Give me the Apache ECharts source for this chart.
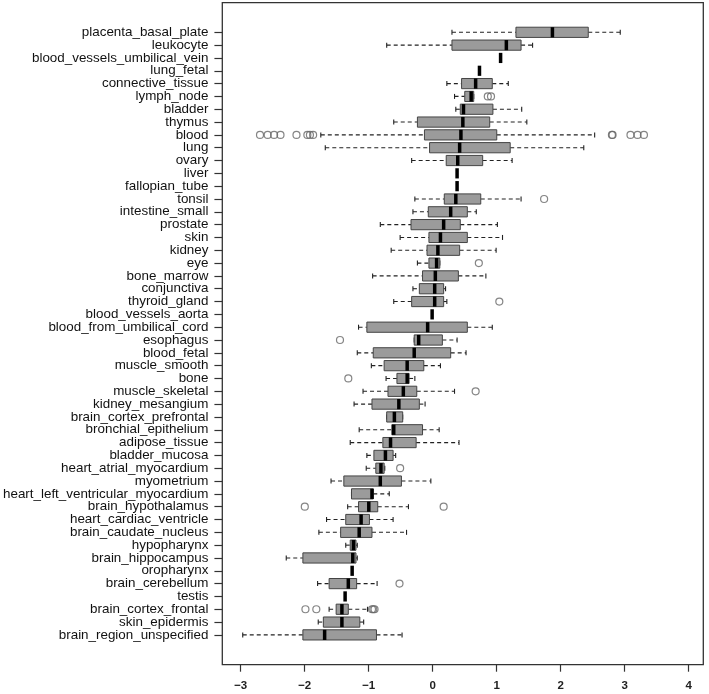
<!DOCTYPE html>
<html>
<head>
<meta charset="utf-8">
<script src="https://cdn.jsdelivr.net/npm/echarts@6/dist/echarts.min.js"></script>
<style>
html,body{margin:0;padding:0;background:#fff;}
#chart{width:709px;height:694px;}
</style>
</head>
<body>
<div id="chart"></div>
<script>
const categories = [
  "placenta_basal_plate","leukocyte","blood_vessels_umbilical_vein","lung_fetal","connective_tissue",
  "lymph_node","bladder","thymus","blood","lung","ovary","liver","fallopian_tube","tonsil",
  "intestine_small","prostate","skin","kidney","eye","bone_marrow","conjunctiva","thyroid_gland",
  "blood_vessels_aorta","blood_from_umbilical_cord","esophagus","blood_fetal","muscle_smooth","bone",
  "muscle_skeletal","kidney_mesangium","brain_cortex_prefrontal","bronchial_epithelium","adipose_tissue",
  "bladder_mucosa","heart_atrial_myocardium","myometrium","heart_left_ventricular_myocardium",
  "brain_hypothalamus","heart_cardiac_ventricle","brain_caudate_nucleus","hypopharynx",
  "brain_hippocampus","oropharynx","brain_cerebellum","testis","brain_cortex_frontal",
  "skin_epidermis","brain_region_unspecified"
];
const whiskerLow = [0.30,-0.72,1.06,0.73,0.22,0.34,0.36,-0.61,-1.75,-1.68,-0.33,0.38,0.38,-0.28,
  -0.31,-0.82,-0.51,-0.65,-0.24,-0.94,-0.31,-0.61,-0.01,-1.16,-0.29,-1.18,-0.96,-0.73,
  -1.09,-1.23,-0.72,-1.15,-1.29,-1.03,-1.04,-1.59,-1.27,-1.33,-1.66,-1.78,-1.36,-2.29,-1.26,
  -1.80,-1.37,-1.62,-1.79,-2.97];
const q1 = [1.30,0.30,1.06,0.73,0.45,0.50,0.43,-0.24,-0.13,-0.05,0.21,0.38,0.38,0.18,
  -0.07,-0.34,-0.06,-0.09,-0.06,-0.16,-0.21,-0.33,-0.01,-1.03,-0.29,-0.93,-0.76,-0.56,
  -0.70,-0.95,-0.72,-0.64,-0.78,-0.92,-0.89,-1.39,-1.27,-1.16,-1.36,-1.44,-1.29,-2.03,-1.26,
  -1.62,-1.37,-1.51,-1.71,-2.03];
const median = [1.87,1.15,1.06,0.73,0.67,0.60,0.48,0.47,0.44,0.42,0.39,0.38,0.38,0.36,
  0.28,0.17,0.12,0.08,0.06,0.04,0.03,0.03,-0.01,-0.08,-0.22,-0.29,-0.40,-0.40,
  -0.46,-0.53,-0.60,-0.61,-0.66,-0.74,-0.81,-0.82,-0.95,-1.00,-1.12,-1.15,-1.24,-1.25,-1.26,
  -1.32,-1.37,-1.42,-1.42,-1.69];
const q3 = [2.43,1.38,1.06,0.73,0.93,0.64,0.94,0.89,1.00,1.21,0.78,0.38,0.38,0.75,
  0.54,0.43,0.54,0.42,0.11,0.40,0.17,0.17,-0.01,0.54,0.15,0.28,-0.14,-0.37,
  -0.25,-0.21,-0.47,-0.16,-0.26,-0.62,-0.76,-0.49,-0.93,-0.86,-0.99,-0.95,-1.20,-1.20,-1.26,
  -1.19,-1.37,-1.32,-1.14,-0.88];
const whiskerHigh = [2.93,1.56,1.06,0.73,1.18,0.64,1.39,1.47,2.53,2.36,1.24,0.38,0.38,1.38,
  0.68,1.01,1.09,0.99,0.11,0.83,0.20,0.22,-0.01,0.93,0.38,0.52,0.12,-0.28,
  0.34,-0.12,-0.47,0.10,0.41,-0.58,-0.75,-0.03,-0.68,-0.38,-0.62,-0.41,-1.18,-1.18,-1.26,
  -0.87,-1.37,-1.02,-1.08,-0.48];
const outlierCategory = [
  "lymph_node","lymph_node",
  "blood","blood","blood","blood","blood","blood","blood","blood","blood","blood","blood","blood","blood",
  "tonsil","eye","thyroid_gland","esophagus","bone","muscle_skeletal","heart_atrial_myocardium",
  "brain_hypothalamus","brain_hypothalamus","brain_cerebellum",
  "brain_cortex_frontal","brain_cortex_frontal","brain_cortex_frontal","brain_cortex_frontal","brain_cortex_frontal"
];
const outlierValue = [
  0.86,0.91,
  -2.70,-2.58,-2.48,-2.38,-2.13,-1.96,-1.92,-1.87,2.80,2.81,3.09,3.20,3.30,
  1.74,0.72,1.04,-1.45,-1.32,0.67,-0.51,
  -2.00,0.17,-0.52,
  -1.99,-1.82,-0.95,-0.93,-0.91
];
const xTicks = [-3,-2,-1,0,1,2,3,4];

const XMIN = -3.2875, XMAX = 4.228;
const FONT = "'Liberation Sans', Arial, sans-serif";

const boxData = categories.map((c, i) => [i, whiskerLow[i], q1[i], median[i], q3[i], whiskerHigh[i]]);
const outData = outlierCategory.map((c, i) => [outlierValue[i], categories.indexOf(c)]);

const chart = echarts.init(document.getElementById('chart'), null, {renderer: 'canvas'});
const BOXH = 10.2, STAPLE = 5;

function renderBox(params, api) {
  const cat = api.value(0);
  const pLo = api.coord([api.value(1), cat]);
  const pQ1 = api.coord([api.value(2), cat]);
  const pMed = api.coord([api.value(3), cat]);
  const pQ3 = api.coord([api.value(4), cat]);
  const pHi = api.coord([api.value(5), cat]);
  const y = pMed[1];
  const h = BOXH / 2;
  const dash = {stroke: '#222', lineWidth: 1.1, lineDash: [4, 3]};
  const solid = {stroke: '#222', lineWidth: 1.1};
  const children = [];
  if (pQ1[0] - pLo[0] > 0.5) children.push({type: 'line', shape: {x1: pLo[0], y1: y, x2: pQ1[0], y2: y}, style: dash});
  if (pHi[0] - pQ3[0] > 0.5) children.push({type: 'line', shape: {x1: pQ3[0], y1: y, x2: pHi[0], y2: y}, style: dash});
  children.push({type: 'line', shape: {x1: pLo[0], y1: y - STAPLE / 2, x2: pLo[0], y2: y + STAPLE / 2}, style: solid});
  children.push({type: 'line', shape: {x1: pHi[0], y1: y - STAPLE / 2, x2: pHi[0], y2: y + STAPLE / 2}, style: solid});
  if (pQ3[0] - pQ1[0] > 0.3) {
    children.push({type: 'rect', shape: {x: pQ1[0], y: y - h, width: pQ3[0] - pQ1[0], height: BOXH},
      style: {fill: '#9b9b9b', stroke: '#444', lineWidth: 1}});
  }
  children.push({type: 'line', shape: {x1: pMed[0], y1: y - h, x2: pMed[0], y2: y + h},
    style: {stroke: '#000', lineWidth: 3.5}});
  return {type: 'group', children};
}

chart.setOption({
  animation: false,
  backgroundColor: '#fff',
  grid: [
    {left: 222.3, right: 5.7, top: 25.9, height: 615.4, show: false},
    {left: 222.3, right: 5.7, top: 2.7, bottom: 29.3, show: true, borderColor: '#333', borderWidth: 1.3, backgroundColor: 'transparent'}
  ],
  xAxis: [
    {gridIndex: 0, type: 'value', min: XMIN, max: XMAX, show: false, splitLine: {show: false}, axisLine: {onZero: false}},
    {gridIndex: 1, type: 'value', min: XMIN, max: XMAX, position: 'bottom',
      axisLine: {show: false, onZero: false}, splitLine: {show: false},
      axisTick: {show: true, customValues: xTicks, length: 7, lineStyle: {color: '#333', width: 1.2}},
      axisLabel: {customValues: xTicks, margin: 15, fontSize: 11.5, fontWeight: 'bold', color: '#222', fontFamily: FONT,
        formatter: v => String(v).replace('-', '\u2212')}}
  ],
  yAxis: [
    {gridIndex: 0, type: 'category', data: categories, inverse: true, position: 'left',
      axisLine: {show: false, onZero: false}, splitLine: {show: false},
      axisTick: {show: true, alignWithLabel: true, interval: 0, length: 8, lineStyle: {color: '#333', width: 1.2}},
      axisLabel: {interval: 0, fontSize: 13.4, color: '#111', margin: 14, fontFamily: FONT}},
    {gridIndex: 1, type: 'value', show: false, splitLine: {show: false}}
  ],
  series: [
    {type: 'custom', xAxisIndex: 0, yAxisIndex: 0, renderItem: renderBox, data: boxData,
      encode: {x: [1, 2, 3, 4, 5], y: 0}, clip: false},
    {type: 'scatter', xAxisIndex: 0, yAxisIndex: 0, data: outData, symbol: 'circle', symbolSize: 7,
      itemStyle: {color: 'rgba(0,0,0,0)', borderColor: '#666', borderWidth: 1.2}}
  ]
});
</script>
</body>
</html>
